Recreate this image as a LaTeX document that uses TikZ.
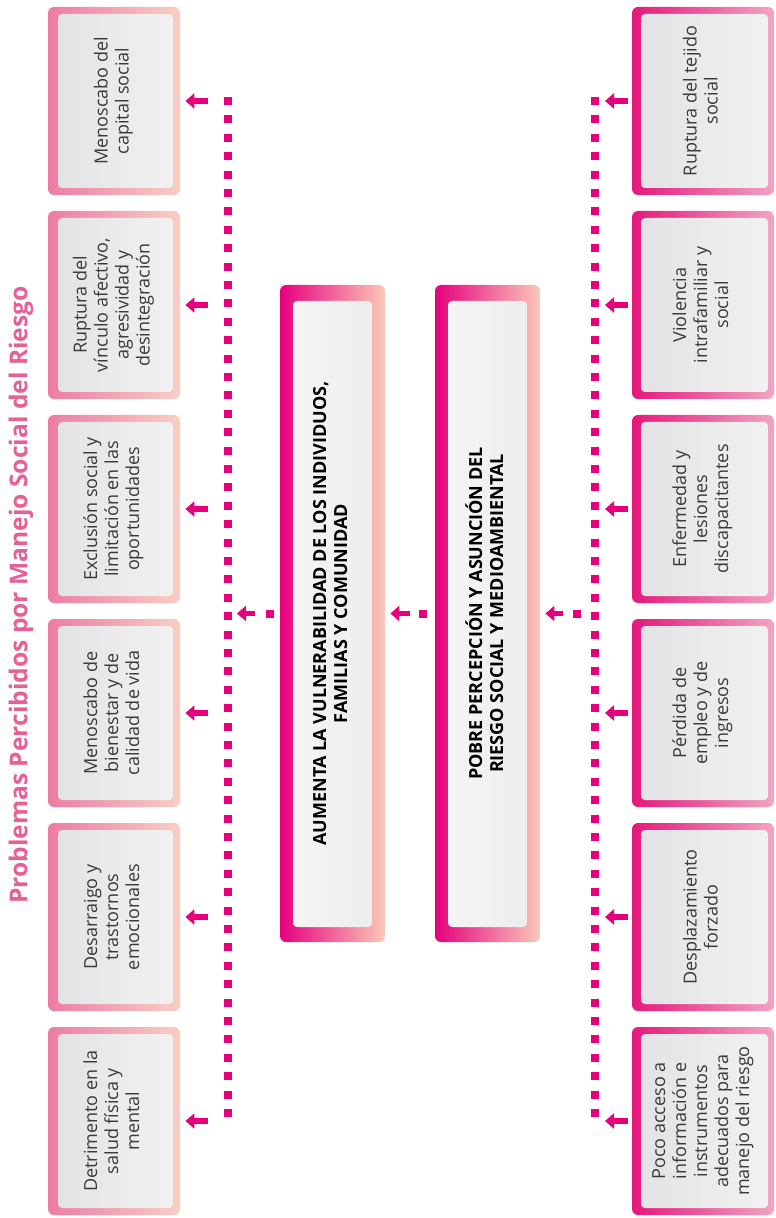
\documentclass[tikz,border=0pt]{standalone}
\usepackage{fontspec}
\setmainfont{Open Sans}
\usetikzlibrary{arrows.meta}

\definecolor{buspink}{RGB}{230,0,126}
\definecolor{titlepink}{RGB}{230,96,152}
\definecolor{boxtext}{RGB}{58,58,58}
\definecolor{effL}{RGB}{236,124,164}
\definecolor{effR}{RGB}{249,206,196}
\definecolor{cauL}{RGB}{229,24,124}
\definecolor{cauR}{RGB}{243,164,194}
\definecolor{cenL}{RGB}{230,0,126}
\definecolor{cenR}{RGB}{250,200,184}
\definecolor{innerL}{RGB}{226,226,228}
\definecolor{innerR}{RGB}{242,242,242}
\definecolor{cinnerL}{RGB}{246,246,246}
\definecolor{cinnerR}{RGB}{236,236,236}

\newcommand{\rtxt}[1]{\rotatebox{90}{\begin{tabular}{@{}c@{}}#1\end{tabular}}}

\tikzset{
  inner/.style n args={6}{path picture={
    \shade[rounded corners=2pt, left color=#5, right color=#6]
      ([shift={(#1,#4)}]path picture bounding box.south west) rectangle
      ([shift={(-#2,-#3)}]path picture bounding box.north east);}},
  box/.style={rounded corners=3pt, align=center, inner sep=0pt, text=boxtext,
    font=\fontsize{9}{10.5}\selectfont},
  effbox/.style={box, minimum width=66pt, minimum height=94pt,
    left color=effL, right color=effR,
    inner={5pt}{3.5pt}{3.5pt}{3.5pt}{innerL}{innerR}},
  caubox/.style={box, minimum width=71pt, minimum height=94pt,
    left color=cauL, right color=cauR,
    inner={4.5pt}{3pt}{3.5pt}{3.5pt}{innerL}{innerR}},
  cenbox/.style={box, minimum width=52.5pt, minimum height=328.5pt, text=black,
    left color=cenL, right color=cenR,
    inner={6.5pt}{6.5pt}{8pt}{7.5pt}{cinnerL}{cinnerR},
    font=\bfseries\fontsize{9}{10.5}\selectfont},
  bus/.style={draw=buspink, line width=4pt, dash pattern=on 4pt off 5.2pt},
  fatarrow/.style={draw=buspink, line width=2.6pt, -{Triangle[width=7.5pt,length=4.5pt]}}
}

\begin{document}
\begin{tikzpicture}[x=0.5pt, y=-0.5pt]
\useasboundingbox (0,0) rectangle (775,1218);

\node[rotate=90, text=titlepink, font=\bfseries\fontsize{12.3}{15}\selectfont] (titulo) at (21,595)
  {Problemas Percibidos por Manejo Social del Riesgo};

% efectos
\node[effbox] (eff1) at (114,101) {\rtxt{Menoscabo del\\capital social}};
\node[effbox] (eff2) at (114,305) {\rtxt{Ruptura del\\vínculo afectivo,\\agresividad y\\desintegración}};
\node[effbox] (eff3) at (114,509) {\rtxt{Exclusión social y\\limitación en las\\oportunidades}};
\node[effbox] (eff4) at (114,713) {\rtxt{Menoscabo de\\bienestar y de\\calidad de vida}};
\node[effbox] (eff5) at (114,917) {\rtxt{Desarraigo y\\trastornos\\emocionales}};
\node[effbox] (eff6) at (114,1121) {\rtxt{Detrimento en la\\salud física y\\mental}};

% problema central
\node[cenbox] (vul) at (332.5,613.5) {\rtxt{AUMENTA LA VULNERABILIDAD DE LOS INDIVIDUOS,\\FAMILIAS Y COMUNIDAD}};
\node[cenbox] (per) at (487.5,613.5) {\rtxt{POBRE PERCEPCIÓN Y ASUNCIÓN DEL\\RIESGO SOCIAL Y MEDIOAMBIENTAL}};

% causas
\node[caubox] (cau1) at (703,101) {\rtxt{Ruptura del tejido\\social}};
\node[caubox] (cau2) at (703,305) {\rtxt{Violencia\\intrafamiliar y\\social}};
\node[caubox] (cau3) at (703,509) {\rtxt{Enfermedad y\\lesiones\\discapacitantes}};
\node[caubox] (cau4) at (703,713) {\rtxt{Pérdida de\\empleo y de\\ingresos}};
\node[caubox] (cau5) at (703,917) {\rtxt{Desplazamiento\\forzado}};
\node[caubox] (cau6) at (703,1121) {\rtxt{Poco acceso a\\información e\\instrumentos\\adecuados para\\manejo del riesgo}};

% barras punteadas
\coordinate (lbtop) at (228,97);
\coordinate (lbbot) at (228,1126);
\coordinate (rbtop) at (595,97);
\coordinate (rbbot) at (595,1126);
\draw[bus] (lbtop) -- (lbbot);
\draw[bus] (rbtop) -- (rbbot);

\foreach \i in {1,...,6} {
  \coordinate (lb\i) at (228,{101+(\i-1)*204});
  \coordinate (rb\i) at (595,{101+(\i-1)*204});
  \draw[fatarrow, shorten <=10pt, shorten >=2.5pt] (lb\i) -- (eff\i.east);
  \draw[fatarrow, shorten <=2pt, shorten >=5pt] (cau\i.west) -- (rb\i);
}

% enlaces centrales
\coordinate (lbm) at (228,613.5);
\coordinate (rbm) at (595,613.5);
\draw[bus] ([xshift=-7pt]rbm) -- ++(-4pt,0);
\draw[fatarrow, shorten >=2.5pt] ([xshift=-16pt]rbm) -- (per.east);
\draw[bus] ([xshift=-4pt]per.west) -- ++(-4pt,0);
\draw[fatarrow, shorten >=2.5pt] ([xshift=-12.5pt]per.west) -- (vul.east);
\draw[bus] ([xshift=-3pt]vul.west) -- ++(-4pt,0);
\draw[fatarrow, shorten >=4.5pt] ([xshift=-12.5pt]vul.west) -- (lbm);
\end{tikzpicture}
\end{document}
